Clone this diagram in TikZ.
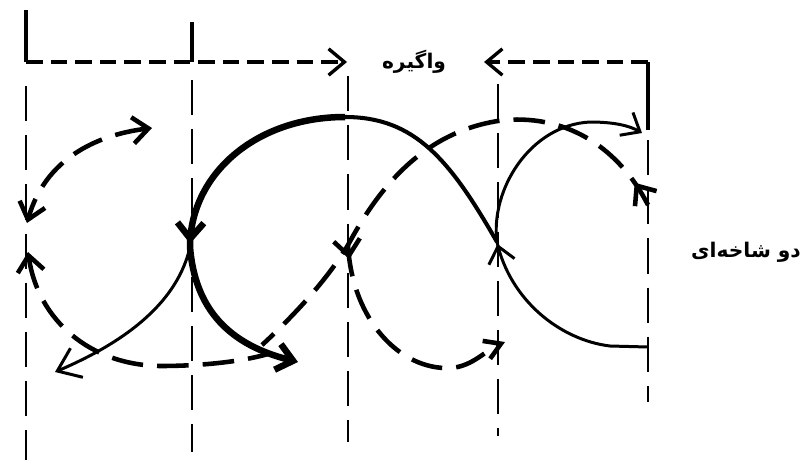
\documentclass[tikz,border=0pt]{standalone}
\usepackage{fontspec}
\newfontfamily\arabicfont[Script=Arabic]{DejaVu Sans}
\TeXXeTstate=1
\usetikzlibrary{arrows.meta, decorations.markings}
\tikzstyle{guide} = [line width=1.5pt, dash pattern=on 20pt off 8pt]
\tikzstyle{bracket} = [line width=1.9pt, dash pattern=on 9.5pt off 4.5pt]
\tikzstyle{heavy} = [line width=3.7pt]
\tikzstyle{light} = [line width=1.7pt]
\tikzstyle{broken} = [line width=2.6pt, dash pattern=on 18pt off 8pt]
\tikzstyle{farsi} = [font=\arabicfont\bfseries\fontsize{11.5}{14}\selectfont, inner sep=0pt]
\tikzset{tipat/.style={postaction={decorate}, decoration={markings, mark=at position #1 with {\arrow{Straight Barb[length=9pt,width=15pt]}}}}}

\begin{document}
\begin{tikzpicture}[x=0.02cm, y=-0.02cm, >={Straight Barb[length=9pt,width=15pt]}]
        \useasboundingbox (0,0) rectangle (811,460);

        % Labels
        \node (clamp) [farsi] at (414,62) {\beginR واگیره\endR};
        \node (fork) [farsi] at (746,252) {\beginR دو شاخه^^^^200cای\endR};

        % Cusps and bracket corners
        \coordinate (cL) at (190,247);
        \coordinate (cM) at (348,245);
        \coordinate (cR) at (497,242);
        \coordinate (top) at (345,117);
        \coordinate (bl) at (26,62);
        \coordinate (br) at (648,62);
        \coordinate (inL) at (347,62);
        \coordinate (inR) at (484,62);

        % Guide lines
        \draw [guide] (26,86) -- (26,460);
        \draw [guide] (192,80) -- (192,452);
        \draw [guide] (348,76) -- (348,442);
        \draw [guide] (498,84) -- (498,436);
        \draw [guide] (648,140) -- (648,402);

        % Bracket
        \draw [line width=1.9pt] (26,10) -- (bl);
        \draw [line width=1.9pt] (192,22) -- (192,62);
        \draw [line width=1.9pt] (br) -- (648,130);
        \draw [bracket, ->] (bl) -- (inL);
        \draw [bracket, ->] (br) -- (inR);

        % Solid paths
        \draw [line width=2.3pt] (cR) .. controls (450,160) and (415,117) .. (top);
        \draw [heavy, tipat=0.56, ->] (top) .. controls (255,117) and (190,175) .. (cL) .. controls (195,310) and (230,345) .. (298,362);
        \draw [light, ->, >={Straight Barb[length=12pt,width=18pt]}] (cL) .. controls (178,300) and (130,340) .. (55,372);
        \draw [light, tipat=0.47, ->] (648,347) -- (610,346) .. controls (560,340) and (510,300) .. (cR) .. controls (490,190) and (530,125) .. (590,122) .. controls (615,122) and (630,126) .. (642,133);

        % Dashed paths
        \draw [broken, tipat=0.05] (648,205) .. controls (620,150) and (570,115) .. (505,120) .. controls (420,130) and (375,195) .. (cM) .. controls (330,275) and (300,310) .. (262,345);
        \draw [broken, tipat=0.06, -{Straight Barb[length=9pt,width=11pt]}] (cM) .. controls (352,320) and (400,370) .. (450,368) .. controls (472,367) and (486,350) .. (505,342);
        \draw [broken, <->] (152,128) .. controls (95,135) and (45,160) .. (27,223);
        \draw [broken, <-] (28,252) .. controls (38,320) and (90,365) .. (160,366) .. controls (200,366) and (240,362) .. (268,354);

    \end{tikzpicture}
\end{document}
